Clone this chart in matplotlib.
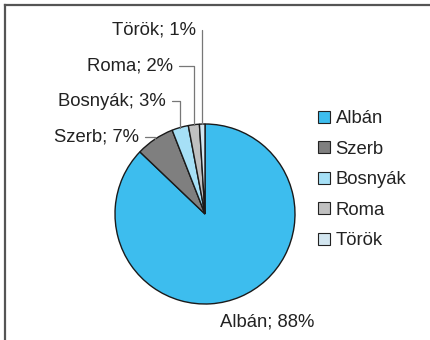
import numpy as np
import matplotlib.pyplot as plt
from matplotlib.lines import Line2D

plt.rcParams['font.family'] = ['Liberation Sans', 'DejaVu Sans']

# Nemzetiségi megoszlás
nepek = ['Albán', 'Szerb', 'Bosnyák', 'Roma', 'Török']
szazalek = [88, 7, 3, 2, 1]
szinek = ['#3dbdee', '#7f7f7f', '#a6e0f6', '#c0c0c0', '#d3e6f0']

W, H = 431, 340
R = 90.0
cx, cy = 205, 214  # kör közepe pixelben (felülről mérve)
FS = 13.3

fig = plt.figure(figsize=(W / 100, H / 100), dpi=100)
ax = fig.add_axes([0, 0, 1, 1])


def px(x, y):
    # pixel -> adat koordináta
    return (x - cx) / R, (cy - y) / R


wedges, _ = ax.pie(szazalek, colors=szinek, startangle=90, counterclock=False,
                   radius=1, center=(0, 0), frame=True,
                   wedgeprops=dict(edgecolor='#1a1a1a', linewidth=1.0))
ax.set_xlim(-cx / R, (W - cx) / R)
ax.set_ylim(-(H - cy) / R, cy / R)
ax.set_aspect('equal')
ax.axis('off')

# címkék helye (pixel), jobbra igazítva
cimke_pos = {
    'Szerb': (139, 137),
    'Bosnyák': (166, 101),
    'Roma': (173, 66),
    'Török': (196, 30),
}

for w, nev, p in zip(wedges, nepek, szazalek):
    szoveg = f'{nev}; {p}%'
    if nev == 'Albán':
        ax.text(*px(267, 322), szoveg, ha='center', va='center', fontsize=FS,
                color='#222222')
        continue
    mid = np.deg2rad((w.theta1 + w.theta2) / 2)
    xy = (np.cos(mid), np.sin(mid))
    tx, ty = px(*cimke_pos[nev])
    ax.annotate(szoveg, xy=xy, xytext=(tx, ty), ha='right', va='center',
                fontsize=FS, color='#222222',
                arrowprops=dict(arrowstyle='-', color='#777777', lw=0.9,
                                shrinkA=2, shrinkB=0,
                                connectionstyle='angle,angleA=0,angleB=90,rad=0'))

# jelmagyarázat
handles = [Line2D([], [], marker='s', linestyle='none', markersize=8.5,
                  markerfacecolor=c, markeredgecolor='#222222', markeredgewidth=0.8)
           for c in szinek]
fig.legend(handles, nepek, loc='upper left', bbox_to_anchor=(308 / W, 1 - 101 / H),
           frameon=False, fontsize=FS, handlelength=0.75, handletextpad=0.25,
           labelspacing=0.73, borderpad=0, labelcolor='#222222')

# keret: felső és bal vonal
fig.add_artist(Line2D([5 / W, 5 / W], [0, 1 - 5 / H], color='#555555', lw=1.6,
                      transform=fig.transFigure))
fig.add_artist(Line2D([5 / W, 1], [1 - 5 / H, 1 - 5 / H], color='#555555', lw=1.6,
                      transform=fig.transFigure))

fig.savefig('out.png', dpi=100, facecolor='white')
